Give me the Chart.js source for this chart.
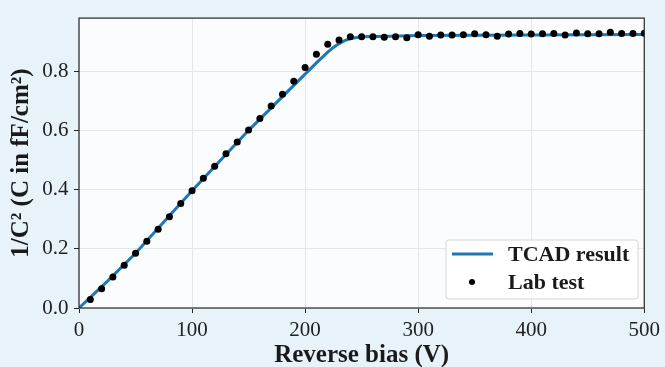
<!DOCTYPE html>
<html>
<head>
<meta charset="utf-8">
<script src="https://cdn.jsdelivr.net/npm/chart.js@4.4.0/dist/chart.umd.min.js"></script>
<style>
  html, body { margin: 0; padding: 0; background: #e8f2f9; }
  #wrap { width: 665px; height: 367px; }
</style>
</head>
<body>
<div id="wrap"><canvas id="chart" width="665" height="367"></canvas></div>
<script>
// TCAD simulation curve (V, 1/C^2)
const tcadBias = [0, 25, 50, 100, 150, 200, 210, 220, 225, 230, 235, 240, 250, 275, 300, 400, 500];
const tcadValue = [0, 0.090, 0.185, 0.396, 0.600, 0.790, 0.828, 0.864, 0.880, 0.893, 0.903, 0.910, 0.916, 0.918, 0.920, 0.922, 0.924];

// lab measurements every 10 V
const labBias = [10, 20, 30, 40, 50, 60, 70, 80, 90, 100,
  110, 120, 130, 140, 150, 160, 170, 180, 190, 200,
  210, 220, 230, 240, 250, 260, 270, 280, 290, 300,
  310, 320, 330, 340, 350, 360, 370, 380, 390, 400,
  410, 420, 430, 440, 450, 460, 470, 480, 490, 500];
const labValue = [0.029, 0.065, 0.105, 0.144, 0.185, 0.225, 0.266, 0.308, 0.353, 0.396,
  0.438, 0.479, 0.521, 0.561, 0.601, 0.640, 0.682, 0.722, 0.766, 0.812,
  0.857, 0.891, 0.905, 0.916, 0.916, 0.916, 0.914, 0.916, 0.913, 0.923,
  0.918, 0.922, 0.922, 0.923, 0.926, 0.923, 0.918, 0.925, 0.927, 0.925,
  0.926, 0.927, 0.922, 0.929, 0.926, 0.926, 0.931, 0.927, 0.927, 0.928];

const xTicks = [0, 100, 200, 300, 400, 500];
const yTicks = [0, 0.2, 0.4, 0.6, 0.8];

const serif = "'Liberation Serif', 'DejaVu Serif', serif";

const frame = {
  id: "frame",
  beforeDraw(chart) {
    const { ctx, chartArea: a } = chart;
    ctx.save();
    ctx.fillStyle = "#fafcfe";
    ctx.fillRect(a.left, a.top, a.right - a.left, a.bottom - a.top);
    ctx.restore();
  },
  afterDraw(chart) {
    const { ctx, chartArea: a } = chart;
    ctx.save();
    ctx.strokeStyle = "#262626";
    ctx.lineWidth = 1.2;
    ctx.strokeRect(a.left, a.top, a.right - a.left, a.bottom - a.top);

    // legend box, lower right
    const bx = 446, by = 240, bw = 192, bh = 59;
    ctx.fillStyle = "rgba(255,255,255,0.85)";
    ctx.strokeStyle = "#d6d6d6";
    ctx.lineWidth = 1;
    ctx.beginPath();
    ctx.roundRect(bx, by, bw, bh, 3);
    ctx.fill();
    ctx.stroke();

    ctx.strokeStyle = "#1f77b4";
    ctx.lineWidth = 3;
    ctx.beginPath();
    ctx.moveTo(452, 254);
    ctx.lineTo(493, 254);
    ctx.stroke();

    ctx.fillStyle = "#000";
    ctx.beginPath();
    ctx.arc(472, 282, 3, 0, Math.PI * 2);
    ctx.fill();

    ctx.fillStyle = "#1a1a1a";
    ctx.font = "bold 22px " + serif;
    ctx.textBaseline = "middle";
    ctx.textAlign = "left";
    const names = chart.data.datasets.map(d => d.label);
    ctx.fillText(names[0], 508, 255);
    ctx.fillText(names[1], 508, 283);
    ctx.restore();
  }
};

new Chart(document.getElementById("chart").getContext("2d"), {
  type: "scatter",
  data: {
    datasets: [
      {
        label: "TCAD result",
        data: tcadBias.map((v, i) => ({ x: v, y: tcadValue[i] })),
        showLine: true,
        borderColor: "#1f77b4",
        borderWidth: 3,
        pointRadius: 0,
        tension: 0,
        order: 2
      },
      {
        label: "Lab test",
        data: labBias.map((v, i) => ({ x: v, y: labValue[i] })),
        showLine: false,
        backgroundColor: "#000",
        borderColor: "#000",
        pointRadius: 3.5,
        pointBorderWidth: 0,
        order: 1
      }
    ]
  },
  options: {
    responsive: false,
    animation: false,
    layout: { padding: { left: 0, right: 17, top: 18, bottom: 0 } },
    plugins: { legend: { display: false }, tooltip: { enabled: false } },
    scales: {
      x: {
        type: "linear",
        min: 0,
        max: 500,
        afterFit(s) { s.height = 59; },
        afterBuildTicks(s) { s.ticks = xTicks.map(v => ({ value: v })); },
        ticks: { font: { family: serif, size: 21 }, color: "#222", padding: 5, maxRotation: 0 },
        grid: { color: "#e4e6e8", tickColor: "#262626", tickLength: 5, lineWidth: 1 },
        border: { display: false },
        title: {
          display: true,
          text: "Reverse bias (V)",
          font: { family: serif, size: 25, weight: "bold", lineHeight: 1 },
          color: "#1a1a1a",
          padding: { top: 0, bottom: -1 }
        }
      },
      y: {
        min: 0,
        max: 0.979,
        afterFit(s) { s.width = 79; },
        afterBuildTicks(s) { s.ticks = yTicks.map(v => ({ value: v })); },
        ticks: {
          font: { family: serif, size: 21 },
          color: "#222",
          padding: 5.5,
          callback: v => v.toFixed(1)
        },
        grid: { color: "#e4e6e8", tickColor: "#262626", tickLength: 5, lineWidth: 1 },
        border: { display: false },
        title: {
          display: true,
          text: "1/C² (C in fF/cm²)",
          font: { family: serif, size: 25, weight: "bold", lineHeight: 1 },
          color: "#1a1a1a",
          padding: { top: 9, bottom: 0 }
        }
      }
    }
  },
  plugins: [frame]
});
</script>
</body>
</html>
